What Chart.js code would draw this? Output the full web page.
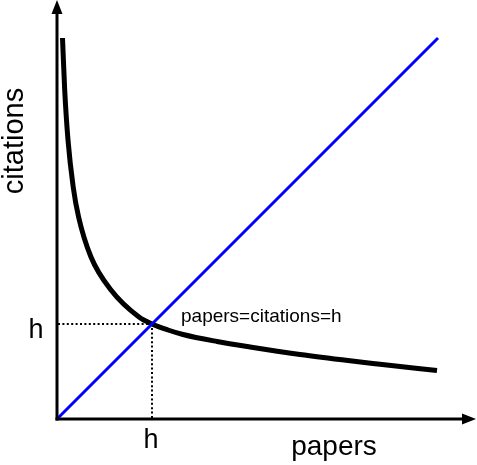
<!DOCTYPE html>
<html>
<head>
<meta charset="utf-8">
<script src="https://cdn.jsdelivr.net/npm/chart.js@4"></script>
<style>
html,body{margin:0;padding:0;background:#fff;}
canvas{display:block;}
</style>
</head>
<body>
<canvas id="c" width="477" height="465"></canvas>
<script>
// Data (units: papers on x, citations on y)
const curvePapers    = [4.5, 6.7, 10, 15.2, 20.6, 33, 53, 81, 94, 110, 125, 159, 192, 242, 292, 322, 379];
const curveCitations = [380, 328, 278, 231, 201, 161, 128, 101, 94, 88, 83.5, 76.5, 71, 63.5, 57.2, 53.8, 47.5];
const diagPapers     = [0, 380];
const diagCitations  = [0, 380];
const hValue = 94;
const xMax = 419, yMax = 418;
const labelX = 'papers', labelY = 'citations', labelH = 'h', labelEq = 'papers=citations=h';

const toPts = (xs, ys) => xs.map((x, i) => ({x: x, y: ys[i]}));

const FONT = '"Liberation Sans", Arial, Helvetica, sans-serif';

const decor = {
  id: 'decor',
  afterDatasetsDraw(chart) {
    const ctx = chart.ctx;
    const xs = chart.scales.x, ys = chart.scales.y;
    const ox = xs.getPixelForValue(0) - 1, oy = ys.getPixelForValue(0) + 1;
    const xEnd = xs.getPixelForValue(xMax), yEnd = ys.getPixelForValue(yMax);
    ctx.save();
    ctx.strokeStyle = '#000'; ctx.fillStyle = '#000'; ctx.lineWidth = 3;
    // y axis
    ctx.beginPath(); ctx.moveTo(ox, oy + 1.5); ctx.lineTo(ox, yEnd + 12); ctx.stroke();
    ctx.beginPath(); ctx.moveTo(ox, yEnd); ctx.lineTo(ox - 5.5, yEnd + 14); ctx.lineTo(ox + 5.5, yEnd + 14); ctx.closePath(); ctx.fill();
    // x axis
    ctx.beginPath(); ctx.moveTo(ox - 1.5, oy); ctx.lineTo(xEnd - 12, oy); ctx.stroke();
    ctx.beginPath(); ctx.moveTo(xEnd - 1, oy); ctx.lineTo(xEnd - 15, oy - 5.5); ctx.lineTo(xEnd - 15, oy + 5.5); ctx.closePath(); ctx.fill();
    // labels
    const hx = xs.getPixelForValue(hValue), hy = ys.getPixelForValue(hValue);
    ctx.textBaseline = 'alphabetic';
    ctx.font = '27px ' + FONT;
    ctx.textAlign = 'center';
    ctx.fillText(labelH, hx - 1, 448);
    ctx.fillText(labelH, 36, hy + 14);
    ctx.font = '28px ' + FONT;
    ctx.fillText(labelX, 334, 455);
    ctx.save();
    ctx.translate(23, 141); ctx.rotate(-Math.PI / 2);
    ctx.font = '29px ' + FONT;
    ctx.fillText(labelY, 0, 0);
    ctx.restore();
    ctx.textAlign = 'left';
    ctx.font = '19px ' + FONT;
    ctx.fillText(labelEq, hx + 29, hy - 2);
    ctx.restore();
  }
};

new Chart(document.getElementById('c'), {
  type: 'line',
  data: {
    datasets: [
      { data: toPts(diagPapers, diagCitations), borderColor: '#0000ff', borderWidth: 3, pointRadius: 0, order: 0, tension: 0 },
      { data: toPts(curvePapers, curveCitations), borderColor: '#000', borderWidth: 5, pointRadius: 0, order: 1, cubicInterpolationMode: 'monotone', borderCapStyle: 'butt' },
      { data: [{x: 0, y: hValue}, {x: hValue, y: hValue}], borderColor: '#000', borderWidth: 2, borderDash: [2, 2.4], pointRadius: 0, order: 2 },
      { data: [{x: hValue, y: 0}, {x: hValue, y: hValue}], borderColor: '#000', borderWidth: 2, borderDash: [2, 2.4], pointRadius: 0, order: 2 }
    ]
  },
  options: {
    responsive: false,
    animation: false,
    layout: { padding: { left: 58, right: 0, top: 0, bottom: 47 } },
    plugins: { legend: { display: false }, tooltip: { enabled: false } },
    scales: {
      x: { type: 'linear', min: 0, max: xMax, display: false },
      y: { type: 'linear', min: 0, max: yMax, display: false }
    },
    elements: { line: { fill: false } },
    clip: false
  },
  plugins: [decor]
});
</script>
</body>
</html>
